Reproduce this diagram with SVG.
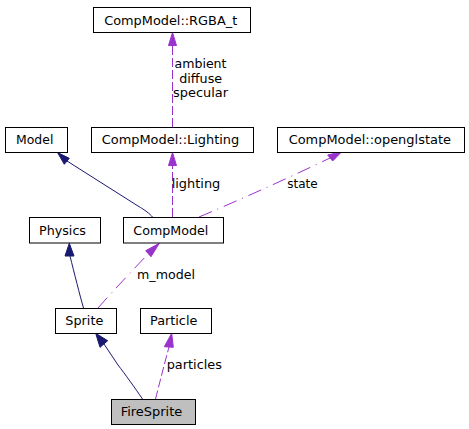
<svg xmlns="http://www.w3.org/2000/svg" width="469" height="429" viewBox="0 0 469 429">
<style>
.box{fill:#ffffff;stroke:#000000;stroke-width:1}
.hl{fill:#bfbfbf;stroke:#000000;stroke-width:1}
.t{font-family:"DejaVu Sans","Liberation Sans",sans-serif;font-size:12.5px;fill:#000000;text-anchor:middle}
.inh{fill:none;stroke:#191970;stroke-width:1}
.inhA{fill:#191970;stroke:#191970;stroke-width:1}
.use{fill:none;stroke:#9a32cd;stroke-width:1;stroke-dasharray:9,3}
.use2{fill:none;stroke:#9a32cd;stroke-width:1;stroke-dasharray:14,6,1,6}
.useA{fill:#9a32cd;stroke:#9a32cd;stroke-width:1}
</style>
<rect width="469" height="429" fill="#ffffff"/>
<g id="connectors">
  <path class="use" d="M172.5,127 L172.5,45.5"/>
  <polygon class="useA" points="168.5,45.5 176.5,45.5 172.5,32.5"/>
  <path class="use" d="M172.5,217 L172.5,165.5"/>
  <polygon class="useA" points="168.5,165.5 176.5,165.5 172.5,152.5"/>
  <path class="inh" d="M152.5,217 C150,214 145,210 138,206 L67,161"/>
  <polygon class="inhA" points="57.5,152.5 69.3,158.3 64.3,164.3"/>
  <path class="use2" d="M199,217 C230,204 280,182 330,158"/>
  <polygon class="useA" points="341.7,151.7 327.7,155 332.7,161"/>
  <path class="inh" d="M83.5,308 C80,296 74,272 70,256"/>
  <polygon class="inhA" points="69.3,243.3 65,256 74,256"/>
  <path class="use2" d="M98,308 C112,292 132,271 148,254"/>
  <polygon class="useA" points="159.3,243.3 145.7,250.7 151,256.7"/>
  <path class="inh" d="M142.5,399 C135,388 125,374 118,365 L104,344"/>
  <polygon class="inhA" points="95.7,333.3 107.7,340.7 100,347.3"/>
  <path class="use" d="M155.5,399 C159,385 165,362 169,347"/>
  <polygon class="useA" points="171.7,333.3 164.3,346.7 173.3,347.3"/>
  <text class="t" x="200.5" y="67.5" textLength="52" lengthAdjust="spacingAndGlyphs">ambient</text>
  <text class="t" x="200.7" y="82.5" textLength="43" lengthAdjust="spacingAndGlyphs">diffuse</text>
  <text class="t" x="200.5" y="96.5" textLength="55" lengthAdjust="spacingAndGlyphs">specular</text>
  <text class="t" x="196" y="188.3" textLength="48.6" lengthAdjust="spacingAndGlyphs">lighting</text>
  <text class="t" x="302.5" y="188.3" textLength="30.4" lengthAdjust="spacingAndGlyphs">state</text>
  <text class="t" x="166" y="279" textLength="58" lengthAdjust="spacingAndGlyphs">m_model</text>
  <text class="t" x="194.3" y="369.3" textLength="55.3" lengthAdjust="spacingAndGlyphs">particles</text>
</g>
<g id="node-rgba">
  <rect class="box" x="93.5" y="7.5" width="157" height="25"/>
  <text class="t" x="170.7" y="24.7" textLength="133" lengthAdjust="spacingAndGlyphs">CompModel::RGBA_t</text>
</g>
<g id="node-model">
  <rect class="box" x="5.5" y="127.5" width="62" height="25"/>
  <text class="t" x="34.7" y="144.3" textLength="37.3" lengthAdjust="spacingAndGlyphs">Model</text>
</g>
<g id="node-lighting">
  <rect class="box" x="91.5" y="127.5" width="162" height="25"/>
  <text class="t" x="170.5" y="144.3" textLength="137.6" lengthAdjust="spacingAndGlyphs">CompModel::Lighting</text>
</g>
<g id="node-openglstate">
  <rect class="box" x="277.5" y="127.5" width="187" height="25"/>
  <text class="t" x="369.8" y="144.3" textLength="162.3" lengthAdjust="spacingAndGlyphs">CompModel::openglstate</text>
</g>
<g id="node-physics">
  <rect class="box" x="29.5" y="217.5" width="71" height="25.5"/>
  <text class="t" x="62.5" y="234.5" textLength="47" lengthAdjust="spacingAndGlyphs">Physics</text>
</g>
<g id="node-compmodel">
  <rect class="box" x="123.5" y="217.5" width="100" height="25.5"/>
  <text class="t" x="170.8" y="234.5" textLength="75" lengthAdjust="spacingAndGlyphs">CompModel</text>
</g>
<g id="node-sprite">
  <rect class="box" x="55.5" y="308.5" width="61" height="25"/>
  <text class="t" x="84.3" y="325.3" textLength="38" lengthAdjust="spacingAndGlyphs">Sprite</text>
</g>
<g id="node-particle">
  <rect class="box" x="140.5" y="308.5" width="71" height="25"/>
  <text class="t" x="173.7" y="325.3" textLength="47.3" lengthAdjust="spacingAndGlyphs">Particle</text>
</g>
<g id="node-firesprite">
  <rect class="hl" x="111.5" y="399.5" width="84" height="25"/>
  <text class="t" x="151.5" y="416.3" textLength="61.6" lengthAdjust="spacingAndGlyphs">FireSprite</text>
</g>
</svg>
